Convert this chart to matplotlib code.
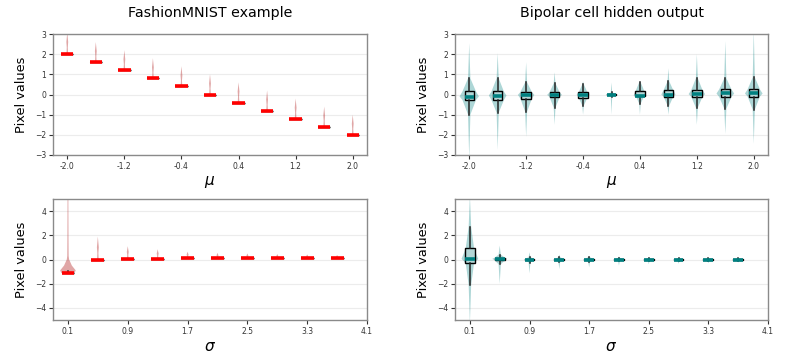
import numpy as np
import matplotlib.pyplot as plt

# x categories
mu_labels = ['-2.0', '-1.6', '-1.2', '-0.8', '-0.4', '0.0', '0.4', '0.8', '1.2', '1.6', '2.0']
sigma_labels = ['0.1', '0.5', '0.9', '1.3', '1.7', '2.1', '2.5', '2.9', '3.3', '3.7', '4.1']

# FashionMNIST example: value where pixels pile up, and top of the thin tail
fm_mu_center = [2.0, 1.6, 1.2, 0.8, 0.4, 0.0, -0.4, -0.8, -1.2, -1.6, -2.0]
fm_mu_top = [3.1, 2.6, 2.2, 1.8, 1.4, 1.0, 0.6, 0.2, -0.2, -0.6, -1.0]
fm_sig_center = [-1.1, -0.07, 0.05, 0.05, 0.1, 0.1, 0.1, 0.1, 0.1, 0.1]
fm_sig_top = [5.3, 1.9, 1.1, 0.85, 0.65, 0.55, 0.5, 0.45, 0.42, 0.37]
fm_sig_whishi = [-0.95, -0.07, 0.05, 0.05, 0.1, 0.1, 0.1, 0.1, 0.1, 0.1]
# first sigma violin has a real body
fm_sig0_coords = [-1.2, -1.12, -0.9, -0.5, 0.0, 0.3, 2.0, 5.3]
fm_sig0_vals = [0.0, 0.85, 1.0, 0.5, 0.15, 0.09, 0.07, 0.05]

# Bipolar cell hidden output, mu sweep
bp_mu_med = [-0.1, -0.05, -0.02, -0.02, 0.0, 0.0, -0.05, 0.0, 0.02, 0.05, 0.05]
bp_mu_q1 = [-0.27, -0.28, -0.2, -0.12, -0.15, -0.03, -0.05, -0.1, -0.1, -0.12, -0.1]
bp_mu_q3 = [0.15, 0.15, 0.12, 0.1, 0.1, 0.03, 0.15, 0.2, 0.2, 0.25, 0.25]
bp_mu_whislo = [-1.0, -0.9, -0.85, -0.65, -0.55, -0.1, -0.45, -0.55, -0.65, -0.7, -0.75]
bp_mu_whishi = [0.8, 0.8, 0.6, 0.55, 0.5, 0.1, 0.6, 0.65, 0.8, 0.8, 0.85]
bp_mu_lo = [-3.2, -2.75, -2.1, -1.5, -1.0, -1.0, -1.0, -1.0, -1.5, -1.95, -2.45]
bp_mu_hi = [2.55, 2.05, 1.6, 1.1, 0.65, 0.6, 0.65, 1.3, 2.0, 2.65, 3.2]
bp_mu_width = [0.68, 0.62, 0.58, 0.52, 0.45, 0.4, 0.45, 0.5, 0.58, 0.62, 0.62]
bp_mu_shoulder = [0.7, 0.7, 0.7, 0.7, 0.7, 0.7, 0.7, 0.7, 0.7, 0.7, 0.7]

# Bipolar cell hidden output, sigma sweep
bp_sig_med = [0.05, 0.05, 0.0, 0.0, 0.0, 0.0, 0.0, 0.0, 0.0, 0.0]
bp_sig_q1 = [-0.3, -0.05, -0.03, -0.03, -0.03, -0.03, -0.02, -0.02, -0.02, -0.02]
bp_sig_q3 = [0.92, 0.15, 0.05, 0.03, 0.03, 0.03, 0.02, 0.02, 0.02, 0.02]
bp_sig_whislo = [-2.1, -0.4, -0.25, -0.2, -0.2, -0.15, -0.1, -0.15, -0.15, -0.1]
bp_sig_whishi = [2.7, 0.4, 0.2, 0.2, 0.2, 0.15, 0.1, 0.1, 0.1, 0.1]
bp_sig_lo = [-5.3, -2.0, -1.15, -0.8, -0.65, -0.5, -0.4, -0.35, -0.3, -0.25]
bp_sig_hi = [5.3, 1.15, 0.6, 0.4, 0.3, 0.25, 0.2, 0.15, 0.15, 0.1]
bp_sig_width = [0.56, 0.5, 0.4, 0.4, 0.4, 0.38, 0.38, 0.38, 0.38, 0.38]
bp_sig_shoulder = [0.5, 0.7, 0.7, 0.7, 0.7, 0.7, 0.7, 0.7, 0.7, 0.7]

TEAL = '#008080'
ROSE = '#b22222'


def draw_violins(ax, coords_list, vals_list, widths, color, alpha):
    stats = []
    for c, v in zip(coords_list, vals_list):
        c = np.asarray(c, float)
        stats.append({'coords': c, 'vals': np.asarray(v, float), 'mean': c.mean(),
                      'median': np.median(c), 'min': c[0], 'max': c[-1]})
    parts = ax.violin(stats, positions=range(len(stats)), widths=widths,
                      showmeans=False, showextrema=False, showmedians=False)
    for b in parts['bodies']:
        b.set_facecolor(color)
        b.set_edgecolor('none')
        b.set_alpha(alpha)


def draw_boxes(ax, med, q1, q3, lo, hi, width, medcolor, face):
    stats = [{'med': m, 'q1': a, 'q3': b, 'whislo': l, 'whishi': h, 'fliers': []}
             for m, a, b, l, h in zip(med, q1, q3, lo, hi)]
    ax.bxp(stats, positions=range(len(stats)), widths=width, showcaps=False,
           showfliers=False, patch_artist=True, manage_ticks=False,
           boxprops=dict(facecolor=face, edgecolor='black', linewidth=1.0),
           whiskerprops=dict(color='#222222', linewidth=1.1),
           medianprops=dict(color=medcolor, linewidth=2.6, solid_capstyle='butt'))


def tail_profile(center, top):
    span = top - center
    c = [center - 0.04, center, center + 0.04 * span, center + 0.3 * span,
         center + 0.55 * span, center + 0.8 * span, top]
    v = [0.0, 1.0, 0.12, 0.08, 0.14, 0.06, 0.0]
    return c, v


def style(ax, ylim, yticks, xlim, xticks, xlabels, xlabel):
    ax.set_ylim(*ylim)
    ax.set_yticks(yticks)
    ax.set_xlim(*xlim)
    ax.set_xticks(xticks)
    ax.set_xticklabels(xlabels)
    ax.yaxis.grid(True, color='#ececec', linewidth=0.8)
    ax.set_axisbelow(True)
    for s in ax.spines.values():
        s.set_color('#8a8a8a')
        s.set_linewidth(1.0)
    ax.tick_params(labelsize=5.5, length=3, width=0.8, color='#333333', labelcolor='#333333', pad=2)
    ax.set_ylabel('Pixel values', fontsize=9.3, labelpad=5)
    ax.set_xlabel(xlabel, fontsize=11, labelpad=2)


fig = plt.figure(figsize=(7.89, 3.56), dpi=100)
W, H = 789, 356
ax_tl = fig.add_axes([53 / W, 1 - 155 / H, 314 / W, 121 / H])
ax_tr = fig.add_axes([455 / W, 1 - 155 / H, 313 / W, 121 / H])
ax_bl = fig.add_axes([53 / W, 1 - 320 / H, 314 / W, 121 / H])
ax_br = fig.add_axes([455 / W, 1 - 320 / H, 313 / W, 121 / H])

# FashionMNIST, mu
prof = [tail_profile(c, t) for c, t in zip(fm_mu_center, fm_mu_top)]
draw_violins(ax_tl, [p[0] for p in prof], [p[1] for p in prof], 0.45, ROSE, 0.4)
draw_boxes(ax_tl, fm_mu_center, fm_mu_center, fm_mu_center, fm_mu_center, fm_mu_center,
           0.43, 'red', 'none')
style(ax_tl, (-3, 3), range(-3, 4), (-0.5, 10.5), range(0, 11, 2), mu_labels[::2], r'$\mu$')
ax_tl.set_title('FashionMNIST example', fontsize=10.3, pad=12)

# FashionMNIST, sigma
prof = [tail_profile(c, t) for c, t in zip(fm_sig_center, fm_sig_top)]
prof[0] = (fm_sig0_coords, fm_sig0_vals)
draw_violins(ax_bl, [p[0] for p in prof], [p[1] for p in prof],
             [0.52] + [0.45] * 9, ROSE, 0.4)
fm_sig_q1 = [c - 0.05 if i == 0 else c for i, c in enumerate(fm_sig_center)]
draw_boxes(ax_bl, fm_sig_center, fm_sig_q1, fm_sig_center, fm_sig_q1, fm_sig_whishi,
           0.43, 'red', 'none')
style(ax_bl, (-5, 5), [-4, -2, 0, 2, 4], (-0.5, 10), range(0, 11, 2), sigma_labels[::2], r'$\sigma$')

# Bipolar, mu
coords = [[lo, wl, a, m, b, wh, hi] for lo, wl, a, m, b, wh, hi in
          zip(bp_mu_lo, bp_mu_whislo, bp_mu_q1, bp_mu_med, bp_mu_q3, bp_mu_whishi, bp_mu_hi)]
vals = [[0, 0.12, s, 1, s, 0.12, 0] for s in bp_mu_shoulder]
draw_violins(ax_tr, coords, vals, bp_mu_width, TEAL, 0.32)
draw_boxes(ax_tr, bp_mu_med, bp_mu_q1, bp_mu_q3, bp_mu_whislo, bp_mu_whishi,
           0.33, TEAL, '#b4d6d6')
style(ax_tr, (-3, 3), range(-3, 4), (-0.5, 10.5), range(0, 11, 2), mu_labels[::2], r'$\mu$')
ax_tr.set_title('Bipolar cell hidden output', fontsize=10.3, pad=12)

# Bipolar, sigma
coords = [[lo, wl, a, m, b, wh, hi] for lo, wl, a, m, b, wh, hi in
          zip(bp_sig_lo, bp_sig_whislo, bp_sig_q1, bp_sig_med, bp_sig_q3, bp_sig_whishi, bp_sig_hi)]
vals = [[0, 0.15, s, 1, s, 0.15, 0] for s in bp_sig_shoulder]
draw_violins(ax_br, coords, vals, bp_sig_width, TEAL, 0.32)
draw_boxes(ax_br, bp_sig_med, bp_sig_q1, bp_sig_q3, bp_sig_whislo, bp_sig_whishi,
           0.33, TEAL, '#b4d6d6')
style(ax_br, (-5, 5), [-4, -2, 0, 2, 4], (-0.5, 10), range(0, 11, 2), sigma_labels[::2], r'$\sigma$')

fig.savefig('out.png', dpi=100)
plt.close(fig)
